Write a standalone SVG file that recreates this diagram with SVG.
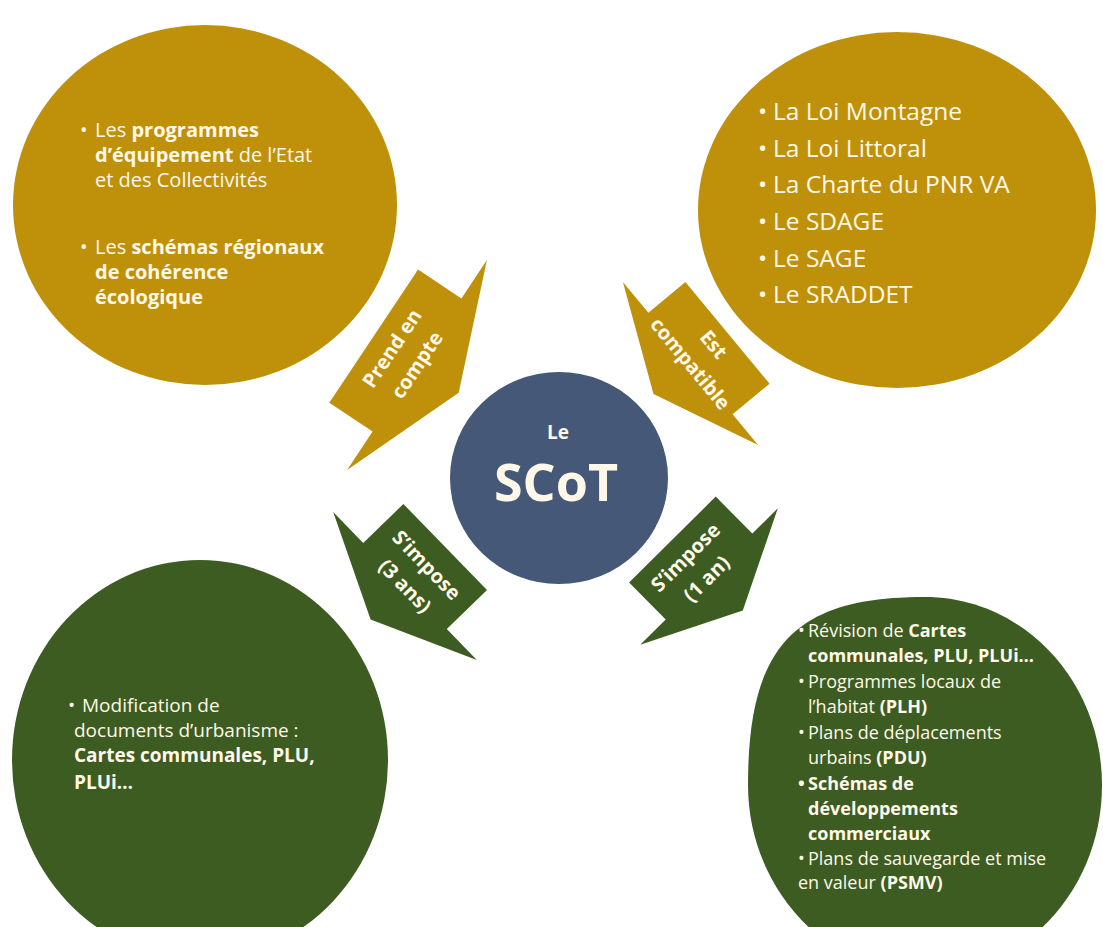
<svg xmlns="http://www.w3.org/2000/svg" width="1103" height="927" viewBox="0 0 1103 927">
<style>
.gold{fill:#BF910A}
.green{fill:#3D5C22}
.blue{fill:#465878}
text{font-family:"Open Sans","Liberation Sans",sans-serif;fill:#FFF8E8}
.b{font-weight:700}
.tl{font-size:20px}
.tr{font-size:24.5px}
.bl{font-size:19px}
.br{font-size:18px}
.lab{font-size:20px;font-weight:700;text-anchor:middle}
</style>
<rect width="1103" height="927" fill="#ffffff"/>

<g id="connectors">
  <g id="arrow-prend">
    <polygon class="gold" points="418.1,269.5 461.4,298.4 486.9,260 458.7,392.8 347.1,470 372.6,431.6 329.3,402.7"/>
    <g transform="translate(404.5,356.7) rotate(-56.3)">
      <text class="lab" x="0" y="-8">Prend en</text>
      <text class="lab" x="0" y="22">compte</text>
    </g>
  </g>
  <g id="arrow-compatible">
    <polygon class="gold" points="685.4,282.1 769.6,383.7 732.6,414.3 758.1,445.1 653.5,394.1 622.9,281.9 648.4,312.7"/>
    <g transform="translate(702,354) rotate(50.4)">
      <text class="lab" x="0" y="-8">Est</text>
      <text class="lab" x="0" y="22">compatible</text>
    </g>
  </g>
  <g id="arrow-3ans">
    <polygon class="green" points="403.4,504 487,590 446.8,629 476.8,659.9 370.6,619.5 333.2,512.1 363.2,543"/>
    <g transform="translate(415.8,575.5) rotate(45.8)">
      <text class="lab" x="0" y="-8">S’impose</text>
      <text class="lab" x="0" y="22">(3 ans)</text>
    </g>
  </g>
  <g id="arrow-1an">
    <polygon class="green" points="715.7,496.6 752.3,533.5 777.8,508.2 742.8,610.6 640.2,644.8 665.7,619.5 629.1,582.6"/>
    <g transform="translate(696,568) rotate(-44.8)">
      <text class="lab" x="0" y="-8">S’impose</text>
      <text class="lab" x="0" y="22">(1 an)</text>
    </g>
  </g>
</g>

<g id="node-scot">
  <ellipse class="blue" cx="559" cy="478" rx="109" ry="106"/>
  <text class="b" x="558" y="439" font-size="19" text-anchor="middle" fill="#ffffff">Le</text>
  <text class="b" x="556" y="501" font-size="52" text-anchor="middle" fill="#ffffff">SCoT</text>
</g>

<g id="node-prend-en-compte">
  <ellipse class="gold" cx="205" cy="205" rx="192" ry="180"/>
  <g class="tl">
    <text x="80" y="137">•</text>
    <text x="95" y="137">Les <tspan class="b">programmes</tspan></text>
    <text x="95" y="162"><tspan class="b">d’équipement</tspan> de l’Etat</text>
    <text x="95" y="187">et des Collectivités</text>
    <text x="80" y="254">•</text>
    <text x="95" y="254">Les <tspan class="b">schémas régionaux</tspan></text>
    <text x="95" y="279" class="b">de cohérence</text>
    <text x="95" y="304" class="b">écologique</text>
  </g>
</g>

<g id="node-compatible">
  <ellipse class="gold" cx="897" cy="210" rx="199" ry="178"/>
  <g class="tr">
    <text x="758" y="120">•</text><text x="773" y="120">La Loi Montagne</text>
    <text x="758" y="157">•</text><text x="773" y="157">La Loi Littoral</text>
    <text x="758" y="193">•</text><text x="773" y="193">La Charte du PNR VA</text>
    <text x="758" y="230">•</text><text x="773" y="230">Le SDAGE</text>
    <text x="758" y="267">•</text><text x="773" y="267">Le SAGE</text>
    <text x="758" y="303">•</text><text x="773" y="303">Le SRADDET</text>
  </g>
</g>

<g id="node-3ans">
  <ellipse class="green" cx="200" cy="760" rx="188" ry="200"/>
  <g class="bl">
    <text x="68" y="712">•</text>
    <text x="82" y="712">Modification de</text>
    <text x="74" y="737">documents d’urbanisme :</text>
    <text x="74" y="762" class="b">Cartes communales, PLU,</text>
    <text x="74" y="789" class="b">PLUi…</text>
  </g>
</g>

<g id="node-1an">
  <path class="green" d="M925,597 C795,597 748,645 748,785 C748,890 830,975 925,975 C1023,975 1102,890 1102,785 C1102,681 1023,597 925,597 Z"/>
  <g class="br">
    <text x="798" y="637">•</text>
    <text x="808" y="637">Révision de <tspan class="b">Cartes</tspan></text>
    <text x="808" y="662" class="b">communales, PLU, PLUi…</text>
    <text x="798" y="688">•</text>
    <text x="808" y="688">Programmes locaux de</text>
    <text x="808" y="713">l’habitat <tspan class="b">(PLH)</tspan></text>
    <text x="798" y="739">•</text>
    <text x="808" y="739">Plans de déplacements</text>
    <text x="808" y="764">urbains <tspan class="b">(PDU)</tspan></text>
    <text x="798" y="790" class="b">•</text>
    <text x="808" y="790" class="b">Schémas de</text>
    <text x="808" y="815" class="b">développements</text>
    <text x="808" y="840" class="b">commerciaux</text>
    <text x="798" y="865">•</text>
    <text x="808" y="865">Plans de sauvegarde et mise</text>
    <text x="798" y="889">en valeur <tspan class="b">(PSMV)</tspan></text>
  </g>
</g>
</svg>
